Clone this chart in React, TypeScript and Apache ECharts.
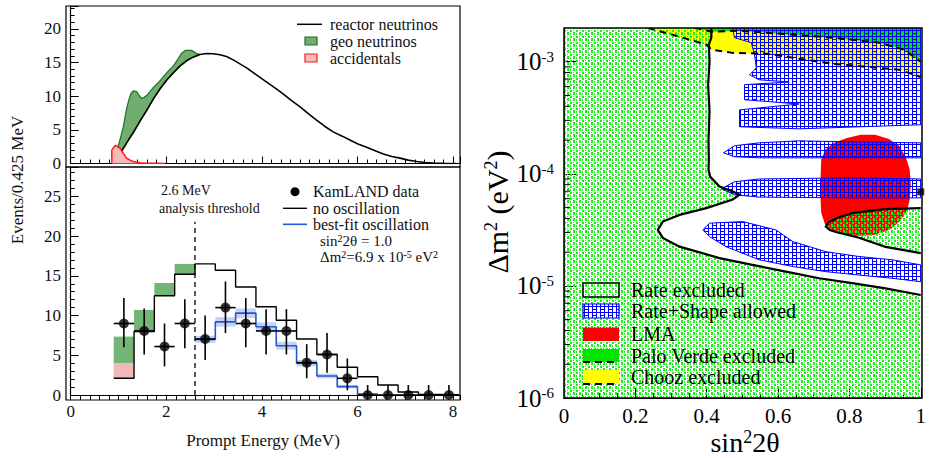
import React, { useEffect, useRef } from 'react';
import * as echarts from 'echarts';

const FONT = '"Liberation Serif", "Times New Roman", serif';

// ---------- Left top panel: expected spectra ----------
const REACTOR = [
  [1.07, 1.9], [1.2, 3.4], [1.31, 4.6], [1.45, 6.3], [1.59, 7.9], [1.73, 9.6], [1.87, 11.1],
  [2.01, 12.4], [2.15, 13.5], [2.29, 14.5], [2.43, 15.3], [2.56, 15.8], [2.7, 16.2], [2.84, 16.35],
  [2.98, 16.3], [3.12, 16.15], [3.26, 15.9], [3.4, 15.4], [3.54, 14.8], [3.68, 14.2], [3.82, 13.5],
  [3.96, 12.8], [4.1, 12.1], [4.28, 11.2], [4.45, 10.3], [4.62, 9.35], [4.8, 8.4], [4.97, 7.4],
  [5.15, 6.4], [5.32, 5.5], [5.49, 4.7], [5.67, 4.1], [5.84, 3.5], [6.01, 2.9], [6.19, 2.4],
  [6.37, 1.9], [6.54, 1.4], [6.72, 1.05], [6.89, 0.8], [7.06, 0.5], [7.24, 0.3], [7.41, 0.15],
  [7.59, 0.05], [7.8, 0.02], [8.07, 0.0],
];
const GEO_TOTAL = [
  [0.88, 0.0], [0.95, 1.5], [1.03, 3.5], [1.1, 5.4], [1.16, 7.8], [1.21, 9.3], [1.26, 10.4],
  [1.31, 10.8], [1.38, 10.7], [1.43, 10.1], [1.48, 9.7], [1.53, 9.8], [1.59, 10.1], [1.73, 11.3],
  [1.87, 12.3], [2.01, 13.5], [2.15, 14.5], [2.25, 15.6], [2.32, 16.4], [2.4, 16.8], [2.53, 16.8],
  [2.62, 16.4], [2.7, 16.2],
];
const ACCIDENTALS = [
  [0.86, 0.0], [0.86, 1.98], [0.93, 2.7], [1.03, 2.3], [1.1, 1.5], [1.17, 0.8], [1.24, 0.5],
  [1.31, 0.3], [1.45, 0.12], [1.59, 0.05], [1.8, 0.02], [1.97, 0.0],
];

// ---------- Left bottom panel: KamLAND data ----------
const BIN_EDGES = [0.9, 1.325, 1.75, 2.175, 2.6, 3.025, 3.45, 3.875, 4.3, 4.725, 5.15, 5.575, 6.0, 6.425, 6.85, 7.275, 7.7, 8.125];
const NO_OSC = [2.1, 8.0, 12.5, 15.2, 16.5, 15.7, 13.6, 11.1, 9.4, 7.05, 5.1, 3.5, 2.3, 1.26, 0.38, 0.08, 0.03];
const LOW_ACC = [1.9, 0, 0, 0];
const LOW_GEO = [3.35, 2.7, 1.6, 1.3];
const BEST_FIT_START = 4; // bin index where best-fit histogram begins (2.6 MeV)
const BEST_FIT = [7.0, 9.2, 10.3, 8.6, 6.2, 4.0, 2.4, 1.05, 0.13];
const BEST_FIT_ERR = [0.45, 0.6, 0.6, 0.55, 0.5, 0.4, 0.3, 0.2, 0.1];
const KL_DATA = [9.0, 8.06, 6.1, 9.0, 7.05, 11.0, 9.0, 8.06, 8.06, 4.07, 5.1, 2.1, 0, 0, 0, 0, 0];
const KL_HI = [12.2, 10.9, 9.0, 12.05, 10.0, 14.3, 12.2, 10.8, 10.8, 6.4, 7.8, 4.6, 1.26, 1.26, 1.26, 1.26, 1.26];
const KL_LO = [6.0, 5.1, 3.6, 5.9, 4.4, 7.8, 6.0, 5.1, 5.1, 2.1, 2.8, 0.6, 0, 0, 0, 0, 0];
const THRESHOLD = 2.6;
const THRESHOLD_TOP = 21.8;

// ---------- Right panel: oscillation parameter space ----------
const X_MIN = 0, X_MAX = 1, Y_MIN = 1e-6, Y_MAX = 2e-3;
const MAIN_CONTOUR = [
  [0.413, 2.0e-3], [0.413, 1.64e-3], [0.406, 1.42e-3], [0.408, 1.0e-3], [0.404, 6.2e-4], [0.408, 3.6e-4],
  [0.405, 2.0e-4], [0.406, 1.33e-4], [0.405, 1.09e-4], [0.41, 9.4e-5], [0.436, 7.7e-5], [0.473, 6.95e-5],
  [0.492, 6.5e-5], [0.473, 5.9e-5], [0.399, 4.94e-5], [0.324, 4.3e-5], [0.277, 3.75e-5], [0.263, 3.16e-5],
  [0.277, 2.68e-5], [0.324, 2.24e-5], [0.436, 1.77e-5], [0.528, 1.54e-5], [0.622, 1.34e-5], [0.715, 1.17e-5],
  [0.808, 1.06e-5], [0.901, 9.5e-6], [1.0, 8.3e-6],
];
const ISLAND_CONTOUR = [
  [1.0, 4.94e-5], [0.901, 4.84e-5], [0.808, 4.46e-5], [0.771, 4.1e-5], [0.743, 3.72e-5], [0.734, 3.38e-5],
  [0.745, 3.16e-5], [0.762, 3.03e-5], [0.827, 2.69e-5], [0.901, 2.23e-5], [1.0, 1.96e-5],
];
const ALLOWED_A = [
  [0.472, 2.0e-3], [0.478, 1.64e-3], [0.525, 1.48e-3], [0.534, 1.155e-3], [0.539, 8.8e-4], [0.52, 7.65e-4],
  [0.547, 6.9e-4], [0.631, 6.6e-4], [0.506, 6.24e-4], [0.506, 4.58e-4], [0.659, 4.2e-4], [0.492, 3.72e-4],
  [0.492, 2.63e-4], [0.659, 2.52e-4], [1.0, 2.74e-4], [1.0, 2.0e-3],
];
const ALLOWED_B = [
  [0.447, 1.54e-4], [0.478, 1.78e-4], [0.547, 1.89e-4], [0.659, 1.97e-4], [0.799, 1.93e-4], [1.0, 1.89e-4],
  [1.0, 1.39e-4], [0.799, 1.39e-4], [0.547, 1.39e-4], [0.478, 1.42e-4],
];
const ALLOWED_C = [
  [0.441, 7.35e-5], [0.478, 8.5e-5], [0.547, 9.0e-5], [0.799, 9.2e-5], [1.0, 9.0e-5],
  [1.0, 6.1e-5], [0.799, 6.1e-5], [0.547, 6.2e-5], [0.478, 6.5e-5],
];
const ALLOWED_D = [
  [0.389, 3.16e-5], [0.408, 3.63e-5], [0.501, 3.75e-5], [0.594, 3.16e-5], [0.641, 2.49e-5], [0.734, 2.02e-5],
  [0.827, 1.83e-5], [0.92, 1.71e-5], [1.0, 1.54e-5], [1.0, 1.09e-5], [0.92, 1.17e-5], [0.827, 1.25e-5],
  [0.734, 1.34e-5], [0.641, 1.49e-5], [0.547, 1.71e-5], [0.454, 2.24e-5], [0.408, 2.75e-5],
];
const LMA = [
  [0.721, 1.33e-4], [0.732, 1.64e-4], [0.757, 1.89e-4], [0.793, 2.09e-4], [0.832, 2.23e-4], [0.872, 2.23e-4],
  [0.911, 2.05e-4], [0.939, 1.78e-4], [0.958, 1.42e-4], [0.969, 1.09e-4], [0.972, 8.0e-5], [0.969, 5.9e-5],
  [0.961, 4.58e-5], [0.939, 3.72e-5], [0.911, 3.16e-5], [0.869, 2.85e-5], [0.813, 2.79e-5], [0.765, 2.97e-5],
  [0.732, 3.51e-5], [0.721, 4.49e-5], [0.718, 7.2e-5],
];
const CHOOZ_BOUNDARY = [
  [0.235, 2.0e-3], [0.324, 1.67e-3], [0.4, 1.42e-3], [0.413, 1.28e-3], [0.472, 1.2e-3], [0.567, 1.18e-3],
  [0.751, 9.6e-4], [0.939, 8.5e-4], [1.0, 7.3e-4],
];
const PV_BOUNDARY = [
  [0.366, 2.0e-3], [0.38, 1.97e-3], [0.413, 1.85e-3], [0.492, 1.89e-3], [0.603, 1.78e-3], [0.751, 1.64e-3],
  [0.883, 1.48e-3], [0.953, 1.28e-3], [1.0, 1.0e-3],
];
const BEST_FIT_POINT = [1.0, 6.9e-5];
const LOG_MINOR_TICKS = [
  2e-6, 3e-6, 4e-6, 5e-6, 6e-6, 7e-6, 8e-6, 9e-6,
  2e-5, 3e-5, 4e-5, 5e-5, 6e-5, 7e-5, 8e-5, 9e-5,
  2e-4, 3e-4, 4e-4, 5e-4, 6e-4, 7e-4, 8e-4, 9e-4,
];

function makePattern(w: number, h: number, cells: number[][], color: string) {
  const c = document.createElement('canvas');
  c.width = w;
  c.height = h;
  const ctx = c.getContext('2d')!;
  ctx.fillStyle = color;
  cells.forEach(([x, y, cw, ch]) => ctx.fillRect(x, y, cw, ch));
  return { image: c.toDataURL(), repeat: 'repeat', imageWidth: w, imageHeight: h };
}

export default function App() {
  const ref = useRef<HTMLDivElement>(null);
  useEffect(() => {
    const chart = echarts.init(ref.current!, null, { renderer: 'svg' });
    const greenCells = [[0, 0, 2, 2], [0, 3, 1, 2], [3, 0, 1, 1], [3, 2, 2, 3]];
    const blueCells = [[0, 0, 1, 6], [4, 0, 1, 6], [0, 0, 8, 1], [1, 3, 3, 1]];
    const GREEN_PAT = makePattern(6, 6, greenCells, '#18f018');
    const GREEN_PAT2 = makePattern(6, 6, greenCells, '#18f018');
    const GREEN_PAT3 = makePattern(6, 6, greenCells, '#18f018');
    const BLUE_PAT = makePattern(8, 6, blueCells, '#0000ff');
    const BLUE_PAT2 = makePattern(8, 6, blueCells, '#0000ff');

    const custom = (idx: number, z: number, draw: (api: any) => any, clip = true) => ({
      type: 'custom',
      xAxisIndex: idx,
      yAxisIndex: idx,
      data: idx === 2 ? [[0.5, 1e-4]] : [[1, 1]],
      silent: true,
      clip,
      z,
      renderItem: (_p: any, api: any) => draw(api),
    });
    const pts = (api: any, arr: number[][]) => arr.map((p) => api.coord(p));
    const poly = (api: any, arr: number[][], style: any) => ({ type: 'polygon', shape: { points: pts(api, arr) }, style });
    const pline = (api: any, arr: number[][], style: any) => ({ type: 'polyline', shape: { points: pts(api, arr) }, style: { fill: null, ...style } });

    const centers = BIN_EDGES.slice(0, -1).map((e, i) => (e + BIN_EDGES[i + 1]) / 2);
    const noOscData = NO_OSC.map((v, i) => [BIN_EDGES[i], v]).concat([[BIN_EDGES[NO_OSC.length], NO_OSC[NO_OSC.length - 1]]]);
    const bestData = BEST_FIT.map((v, i) => [BIN_EDGES[BEST_FIT_START + i], v]).concat([[BIN_EDGES[BEST_FIT_START + BEST_FIT.length], BEST_FIT[BEST_FIT.length - 1]]]);

    const axisLineStyle = { color: '#000', width: 1.2 };
    const leftY = (gi: number, max: number) => ({
      gridIndex: gi, type: 'value', min: 0, max, interval: 5, offset: 4.7,
      axisLine: { show: true, lineStyle: axisLineStyle },
      axisTick: { inside: true, length: 8, lineStyle: { color: '#000' } },
      minorTick: { show: true, splitNumber: 5, length: 4, lineStyle: { color: '#000' } },
      splitLine: { show: false },
      axisLabel: { fontFamily: FONT, fontSize: 17, color: '#111', margin: 5, showMaxLabel: false },
    });

    const sup = { fontFamily: FONT, fontSize: 10, verticalAlign: 'top', fill: '#000' };
    const bigSup = { fontFamily: FONT, fontSize: 18, verticalAlign: 'top', fill: '#000' };

    const option: any = {
      animation: false,
      grid: [
        { left: 70.7, top: 6, width: 389.1, height: 157.5 },
        { left: 70.7, top: 167, width: 389.1, height: 228 },
        { left: 564, top: 28, width: 358, height: 370 },
      ],
      xAxis: [
        {
          gridIndex: 0, type: 'value', min: 0, max: 8.14, interval: 2,
          axisLine: { show: true, onZero: false, lineStyle: axisLineStyle },
          axisTick: { inside: true, length: 7, lineStyle: { color: '#000' } },
          minorTick: { show: true, splitNumber: 10, length: 4, lineStyle: { color: '#000' } },
          axisLabel: { show: false }, splitLine: { show: false },
        },
        {
          gridIndex: 1, type: 'value', min: 0, max: 8.14, interval: 2,
          axisLine: { show: true, onZero: false, lineStyle: axisLineStyle },
          axisTick: { inside: false, length: 5, lineStyle: { color: '#000' } },
          minorTick: { show: true, splitNumber: 10, length: 5, lineStyle: { color: '#000' } },
          axisLabel: { fontFamily: FONT, fontSize: 17, color: '#111', margin: 8, showMaxLabel: false },
          splitLine: { show: false },
        },
        {
          gridIndex: 2, type: 'value', min: X_MIN, max: X_MAX, interval: 0.2,
          axisLine: { show: true, onZero: false, lineStyle: axisLineStyle },
          axisTick: { inside: true, length: 10, lineStyle: { color: '#000' } },
          minorTick: { show: true, splitNumber: 4, length: 5, lineStyle: { color: '#000' } },
          axisLabel: { fontFamily: FONT, fontSize: 21, color: '#000', margin: 7 },
          splitLine: { show: false },
        },
      ],
      yAxis: [
        leftY(0, 23.4),
        leftY(1, 28.7),
        {
          gridIndex: 2, type: 'log', logBase: 10, min: Y_MIN, max: Y_MAX,
          axisLine: { show: true, lineStyle: axisLineStyle },
          axisTick: { inside: true, length: 12, lineStyle: { color: '#000' } },
          splitLine: { show: false },
          axisLabel: {
            margin: 10, showMaxLabel: false,
            formatter: (v: number) => '{b|10}{s|' + Math.round(Math.log10(v)) + '}',
            rich: {
              b: { fontFamily: FONT, fontSize: 25, color: '#000' },
              s: { fontFamily: FONT, fontSize: 15, color: '#000', verticalAlign: 'top' },
            },
          },
        },
      ],
      series: [
        // ---- top left ----
        custom(0, 2, (api) => poly(api, GEO_TOTAL.concat(REACTOR.filter((p) => p[0] <= 2.7).reverse()), {
          fill: '#6fae6f', stroke: '#1f6f1f', lineWidth: 1.2,
        })),
        {
          type: 'line', xAxisIndex: 0, yAxisIndex: 0, data: REACTOR, symbol: 'none', z: 3,
          lineStyle: { color: '#000', width: 1.6 },
        },
        {
          type: 'line', xAxisIndex: 0, yAxisIndex: 0, data: ACCIDENTALS, symbol: 'none', z: 4,
          lineStyle: { color: '#ff1a1a', width: 1.5 }, areaStyle: { color: '#f7b9b9', opacity: 1 },
        },
        // ---- bottom left ----
        custom(1, 2, (api) => {
          const children: any[] = [];
          LOW_GEO.forEach((g, i) => {
            const base = NO_OSC[i];
            const a = LOW_ACC[i];
            if (a > 0) children.push(poly(api, [[BIN_EDGES[i], base], [BIN_EDGES[i + 1], base], [BIN_EDGES[i + 1], base + a], [BIN_EDGES[i], base + a]], { fill: '#f0b9b9' }));
            children.push(poly(api, [[BIN_EDGES[i], base + a], [BIN_EDGES[i + 1], base + a], [BIN_EDGES[i + 1], base + a + g], [BIN_EDGES[i], base + a + g]], { fill: '#74b474' }));
          });
          return { type: 'group', children };
        }),
        custom(1, 2, (api) => ({
          type: 'group',
          children: BEST_FIT.map((v, i) => {
            const e0 = BIN_EDGES[BEST_FIT_START + i], e1 = BIN_EDGES[BEST_FIT_START + i + 1], d = BEST_FIT_ERR[i];
            return poly(api, [[e0, v - d], [e1, v - d], [e1, v + d], [e0, v + d]], { fill: 'rgba(140,165,235,0.5)' });
          }),
        })),
        {
          type: 'line', xAxisIndex: 1, yAxisIndex: 1, data: noOscData, step: 'end', symbol: 'none', z: 3,
          lineStyle: { color: '#000', width: 1.4 },
        },
        {
          type: 'line', xAxisIndex: 1, yAxisIndex: 1, data: bestData, step: 'end', symbol: 'none', z: 3,
          lineStyle: { color: '#2457d6', width: 1.6 },
        },
        {
          type: 'line', xAxisIndex: 1, yAxisIndex: 1, data: [[THRESHOLD, 0], [THRESHOLD, THRESHOLD_TOP]], symbol: 'none', z: 3,
          lineStyle: { color: '#000', width: 1.3, type: [5, 4] },
        },
        custom(1, 4, (api) => {
          const children: any[] = [];
          KL_DATA.forEach((v, i) => {
            children.push(pline(api, [[centers[i], KL_LO[i]], [centers[i], KL_HI[i]]], { stroke: '#000', lineWidth: 1.6 }));
            children.push(pline(api, [[BIN_EDGES[i], v], [BIN_EDGES[i + 1], v]], { stroke: '#000', lineWidth: 1.6 }));
          });
          return { type: 'group', children };
        }),
        {
          type: 'scatter', xAxisIndex: 1, yAxisIndex: 1, z: 5, symbolSize: 10,
          data: KL_DATA.map((v, i) => [centers[i], v]), itemStyle: { color: '#000' },
        },
        // ---- right panel ----
        custom(2, 1, (api) => poly(api, LMA, { fill: '#ff0000' })),
        custom(2, 1, (api) => poly(api, CHOOZ_BOUNDARY.concat([[X_MAX, Y_MAX]]), { fill: '#ffff00' })),
        custom(2, 1, (api) => poly(api, PV_BOUNDARY.concat([[X_MAX, Y_MAX]]), { fill: '#00e400' })),
        custom(2, 2, (api) => ({
          type: 'group',
          children: [
            poly(api, [[X_MIN, Y_MAX]].concat(MAIN_CONTOUR, [[X_MAX, Y_MIN], [X_MIN, Y_MIN]]), { fill: GREEN_PAT }),
            poly(api, ISLAND_CONTOUR, { fill: GREEN_PAT2 }),
          ],
        })),
        custom(2, 3, (api) => ({
          type: 'group',
          children: [ALLOWED_A, ALLOWED_B, ALLOWED_C, ALLOWED_D].map((r) => poly(api, r, { fill: BLUE_PAT, stroke: '#0000ff', lineWidth: 1 })),
        })),
        custom(2, 4, (api) => ({
          type: 'group',
          children: [
            pline(api, MAIN_CONTOUR, { stroke: '#000', lineWidth: 2.2 }),
            pline(api, ISLAND_CONTOUR, { stroke: '#000', lineWidth: 2.2 }),
            pline(api, CHOOZ_BOUNDARY, { stroke: '#000', lineWidth: 2, lineDash: [7, 5] }),
            pline(api, PV_BOUNDARY, { stroke: '#000', lineWidth: 2, lineDash: [7, 5] }),
          ],
        })),
        custom(2, 5, (api) => ({
          type: 'group',
          children: LOG_MINOR_TICKS.map((v) => {
            const p = api.coord([X_MIN, v]);
            return { type: 'line', shape: { x1: p[0], y1: p[1], x2: p[0] + 6, y2: p[1] }, style: { stroke: '#000', lineWidth: 1 } };
          }),
        }), false),
        {
          type: 'scatter', xAxisIndex: 2, yAxisIndex: 2, z: 6, symbol: 'rect', symbolSize: 7, clip: false,
          data: [BEST_FIT_POINT], itemStyle: { color: '#000' },
        },
      ],
      graphic: [
        // frames
        { type: 'rect', shape: { x: 66, y: 6, width: 394, height: 161 }, style: { fill: null, stroke: '#000', lineWidth: 1.2 }, z: 50 },
        { type: 'rect', shape: { x: 66, y: 167, width: 394, height: 233 }, style: { fill: null, stroke: '#000', lineWidth: 1.2 }, z: 50 },
        { type: 'rect', shape: { x: 564, y: 28, width: 358, height: 370 }, style: { fill: null, stroke: '#000', lineWidth: 1.5 }, z: 50 },
        // axis titles
        { type: 'text', x: 17, y: 180, rotation: Math.PI / 2, style: { text: 'Events/0.425 MeV', fontFamily: FONT, fontSize: 17, fill: '#111', align: 'center', verticalAlign: 'middle' } },
        { type: 'text', x: 263, y: 440, style: { text: 'Prompt Energy (MeV)', fontFamily: FONT, fontSize: 17, fill: '#111', align: 'center', verticalAlign: 'middle' } },
        { type: 'text', x: 497, y: 212, rotation: Math.PI / 2, style: { text: 'Δm{s|2} (eV{s|2})', fontFamily: FONT, fontSize: 30, fill: '#000', align: 'center', verticalAlign: 'middle', rich: { s: bigSup } } },
        { type: 'text', x: 745, y: 442, style: { text: 'sin{s|2}2θ', fontFamily: FONT, fontSize: 28, fill: '#000', align: 'center', verticalAlign: 'middle', rich: { s: bigSup } } },
        // top legend
        { type: 'line', shape: { x1: 297, y1: 24.3, x2: 322, y2: 24.3 }, style: { stroke: '#000', lineWidth: 1.5 } },
        { type: 'text', x: 330, y: 24.3, style: { text: 'reactor neutrinos', fontFamily: FONT, fontSize: 16, fill: '#111', verticalAlign: 'middle' } },
        { type: 'rect', shape: { x: 305, y: 37, width: 12, height: 8 }, style: { fill: '#6fae6f', stroke: '#1f6f1f', lineWidth: 1.2 } },
        { type: 'text', x: 330, y: 41, style: { text: 'geo neutrinos', fontFamily: FONT, fontSize: 16, fill: '#111', verticalAlign: 'middle' } },
        { type: 'rect', shape: { x: 305, y: 54, width: 12, height: 8 }, style: { fill: '#f7b9b9', stroke: '#ff1a1a', lineWidth: 1.2 } },
        { type: 'text', x: 330, y: 58, style: { text: 'accidentals', fontFamily: FONT, fontSize: 16, fill: '#111', verticalAlign: 'middle' } },
        // bottom legend
        { type: 'text', x: 161, y: 190, style: { text: '2.6 MeV', fontFamily: FONT, fontSize: 14, fill: '#111', verticalAlign: 'middle' } },
        { type: 'text', x: 159, y: 208, style: { text: 'analysis threshold', fontFamily: FONT, fontSize: 14, fill: '#111', verticalAlign: 'middle' } },
        { type: 'circle', shape: { cx: 295, cy: 191.7, r: 4.5 }, style: { fill: '#000' } },
        { type: 'text', x: 313, y: 191.5, style: { text: 'KamLAND data', fontFamily: FONT, fontSize: 16, fill: '#111', verticalAlign: 'middle' } },
        { type: 'line', shape: { x1: 283, y1: 208.3, x2: 307, y2: 208.3 }, style: { stroke: '#000', lineWidth: 1.4 } },
        { type: 'text', x: 313, y: 208, style: { text: 'no oscillation', fontFamily: FONT, fontSize: 16, fill: '#111', verticalAlign: 'middle' } },
        { type: 'line', shape: { x1: 283, y1: 224.3, x2: 307, y2: 224.3 }, style: { stroke: '#2457d6', lineWidth: 1.6 } },
        { type: 'text', x: 313, y: 224.3, style: { text: 'best-fit oscillation', fontFamily: FONT, fontSize: 16, fill: '#111', verticalAlign: 'middle' } },
        { type: 'text', x: 320, y: 240.7, style: { text: 'sin{s|2}2θ = 1.0', fontFamily: FONT, fontSize: 15, fill: '#111', verticalAlign: 'middle', rich: { s: sup } } },
        { type: 'text', x: 320, y: 256.5, style: { text: 'Δm{s|2}=6.9 x 10{s|-5} eV{s|2}', fontFamily: FONT, fontSize: 15, fill: '#111', verticalAlign: 'middle', rich: { s: sup } } },
        // right legend
        { type: 'rect', shape: { x: 583, y: 283, width: 36, height: 14 }, style: { fill: '#fff', stroke: null }, z: 60 },
        { type: 'rect', shape: { x: 583, y: 283, width: 36, height: 14 }, style: { fill: GREEN_PAT3, stroke: '#000', lineWidth: 1.5 }, z: 61 },
        { type: 'text', x: 631, y: 290, z: 61, style: { text: 'Rate excluded', fontFamily: FONT, fontSize: 20, fill: '#000', verticalAlign: 'middle' } },
        { type: 'rect', shape: { x: 583, y: 304, width: 36, height: 14 }, style: { fill: '#fff', stroke: null }, z: 60 },
        { type: 'rect', shape: { x: 583, y: 304, width: 36, height: 14 }, style: { fill: BLUE_PAT2, stroke: '#0000ff', lineWidth: 1.2 }, z: 61 },
        { type: 'text', x: 631, y: 311, z: 61, style: { text: 'Rate+Shape allowed', fontFamily: FONT, fontSize: 20, fill: '#000', verticalAlign: 'middle' } },
        { type: 'rect', shape: { x: 583, y: 327.5, width: 36, height: 13.5 }, style: { fill: '#ff0000' }, z: 61 },
        { type: 'text', x: 631, y: 334, z: 61, style: { text: 'LMA', fontFamily: FONT, fontSize: 20, fill: '#000', verticalAlign: 'middle' } },
        { type: 'rect', shape: { x: 583, y: 349, width: 36, height: 13 }, style: { fill: '#00e400' }, z: 61 },
        { type: 'line', shape: { x1: 583, y1: 362, x2: 619, y2: 362 }, style: { stroke: '#000', lineWidth: 2, lineDash: [7, 5] }, z: 62 },
        { type: 'text', x: 631, y: 356, z: 61, style: { text: 'Palo Verde excluded', fontFamily: FONT, fontSize: 20, fill: '#000', verticalAlign: 'middle' } },
        { type: 'rect', shape: { x: 583, y: 370, width: 36, height: 14 }, style: { fill: '#ffff00' }, z: 61 },
        { type: 'line', shape: { x1: 583, y1: 384, x2: 619, y2: 384 }, style: { stroke: '#000', lineWidth: 2, lineDash: [7, 5] }, z: 62 },
        { type: 'text', x: 631, y: 377, z: 61, style: { text: 'Chooz excluded', fontFamily: FONT, fontSize: 20, fill: '#000', verticalAlign: 'middle' } },
      ],
    };
    chart.setOption(option);
    return () => chart.dispose();
  }, []);
  return <div ref={ref} style={{ position: 'absolute', left: 0, top: 0, width: 929, height: 458 }} />;
}
